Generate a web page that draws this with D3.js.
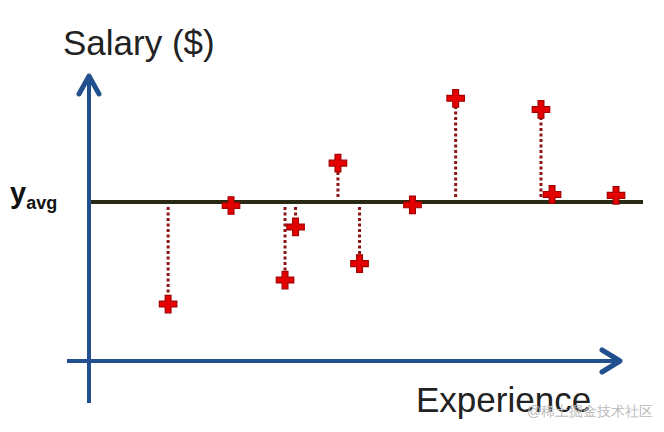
<!DOCTYPE html>
<html>
<head>
<meta charset="utf-8">
<script src="https://cdn.jsdelivr.net/npm/d3@7"></script>
<style>
  body { margin: 0; background: #fff; }
  text { font-family: "Liberation Sans", Arial, sans-serif; }
</style>
</head>
<body>
<svg id="chart" width="664" height="432"></svg>
<script>
// experience (years) and salary ($k) of each person
var experience = [2.93, 5.26, 7.26, 7.65, 9.22, 10.02, 11.98, 13.58, 16.74, 17.15, 19.52];
var salary     = [17.7, 48.9, 25.3, 42.1, 62.3, 30.5, 49.1, 82.8, 79.3, 52.4, 52.1];
var salaryAvg = 50;

var axisColor = '#22508f',
    avgColor = '#2a2a14',
    dotColor = '#8e1515',
    markColor = '#e40000';

var svg = d3.select('#chart');

var x = d3.scaleLinear().domain([0, 20]).range([89, 629]);
var y = d3.scaleLinear().domain([0, 50]).range([360, 202]);

var data = experience.map(function(e, i) { return {x: e, y: salary[i]}; });

// axes as arrows
var x0 = x(0), y0 = y(0);

svg.append('line')
    .attr('x1', 67).attr('y1', y0 + 1)
    .attr('x2', 620).attr('y2', y0 + 1)
    .attr('stroke', axisColor)
    .attr('stroke-width', 4);

svg.append('path')
    .attr('d', 'M' + 602 + ',' + (y0 - 10) + 'L' + 620 + ',' + (y0 + 1) + 'L' + 602 + ',' + (y0 + 12))
    .attr('fill', 'none')
    .attr('stroke', axisColor)
    .attr('stroke-width', 5)
    .attr('stroke-linecap', 'round')
    .attr('stroke-linejoin', 'round');

svg.append('line')
    .attr('x1', x0).attr('y1', 403)
    .attr('x2', x0).attr('y2', 76)
    .attr('stroke', axisColor)
    .attr('stroke-width', 4);

svg.append('path')
    .attr('d', 'M' + (x0 - 10) + ',94L' + x0 + ',76L' + (x0 + 10) + ',94')
    .attr('fill', 'none')
    .attr('stroke', axisColor)
    .attr('stroke-width', 5)
    .attr('stroke-linecap', 'round')
    .attr('stroke-linejoin', 'round');

// average line
svg.append('line')
    .attr('x1', x0 + 2).attr('y1', y(salaryAvg))
    .attr('x2', 643).attr('y2', y(salaryAvg))
    .attr('stroke', avgColor)
    .attr('stroke-width', 4);

// residual lines
var gap = 5, markR = 8;
svg.append('g').selectAll('line')
    .data(data.filter(function(d) { return Math.abs(y(d.y) - y(salaryAvg)) > 14; }))
  .enter().append('line')
    .attr('x1', function(d) { return x(d.x); })
    .attr('x2', function(d) { return x(d.x); })
    .attr('y1', function(d) { return y(salaryAvg) + (y(d.y) > y(salaryAvg) ? gap : -gap); })
    .attr('y2', function(d) { return y(d.y) + (y(d.y) > y(salaryAvg) ? -markR : markR); })
    .attr('stroke', dotColor)
    .attr('stroke-width', 3)
    .attr('stroke-dasharray', '3,2.5');

// markers
svg.append('g').selectAll('path')
    .data(data)
  .enter().append('path')
    .attr('transform', function(d) { return 'translate(' + x(d.x) + ',' + y(d.y) + ')'; })
    .attr('d', d3.symbol().type(d3.symbolCross).size(170))
    .attr('fill', markColor)
    .attr('stroke', '#a30000')
    .attr('stroke-width', 1.2);

// labels
svg.append('text')
    .attr('x', 63).attr('y', 55)
    .attr('font-size', 35)
    .attr('fill', '#222')
    .text('Salary ($)');

svg.append('text')
    .attr('x', 416).attr('y', 412)
    .attr('font-size', 35)
    .attr('fill', '#222')
    .text('Experience');

var yl = svg.append('text')
    .attr('x', 10).attr('y', 203)
    .attr('font-weight', 'bold')
    .attr('fill', '#111');
yl.append('tspan').attr('font-size', 29).text('y');
yl.append('tspan').attr('font-size', 18).attr('dy', 6).text('avg');

// watermark, overlapping the axis title as in the source image
svg.append('text')
    .attr('x', 527).attr('y', 416)
    .attr('font-size', 14)
    .attr('fill', '#bbb')
    .attr('font-family', '"Noto Sans CJK SC", sans-serif')
    .text('@稀土掘金技术社区');
</script>
</body>
</html>
